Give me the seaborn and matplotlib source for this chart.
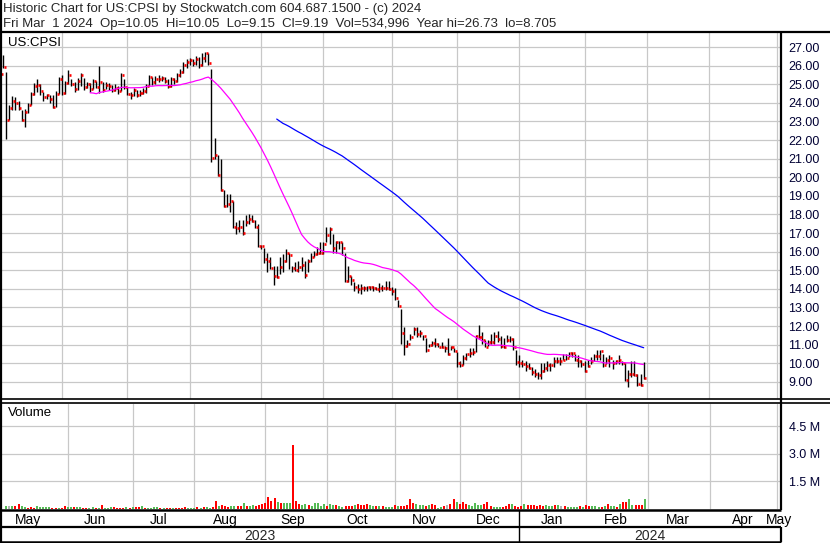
import numpy as np
import pandas as pd
import matplotlib
matplotlib.use("Agg")
import matplotlib.pyplot as plt
import seaborn as sns
from matplotlib.lines import Line2D

# ---------------- data ----------------
title_line1 = "Historic Chart for US:CPSI by Stockwatch.com 604.687.1500 - (c) 2024"
title_line2 = "Fri Mar  1 2024  Op=10.05  Hi=10.05  Lo=9.15  Cl=9.19  Vol=534,996  Year hi=26.73  lo=8.705"
symbol = "US:CPSI"
first_day = "2023-05-03"
last_day = "2024-03-01"
market_holidays = ["2023-05-29", "2023-06-19", "2023-07-04", "2023-09-04", "2023-11-23",
                   "2023-12-25", "2024-01-01", "2024-01-15", "2024-02-19", "2024-03-29"]
month_names = ["May", "Jun", "Jul", "Aug", "Sep", "Oct", "Nov", "Dec",
               "Jan", "Feb", "Mar", "Apr", "May"]
years = ["2023", "2024"]
price_ticks = [9, 10, 11, 12, 13, 14, 15, 16, 17, 18, 19, 20, 21, 22, 23, 24, 25, 26, 27]
volume_ticks = [1.5, 3.0, 4.5]
volume_tick_labels = ["1.5 M", "3.0 M", "4.5 M"]

close_a = [25.55, 25.95, 23.1, 23.75, 24.1, 24.0, 23.7, 23.1, 23.5, 23.9,
           24.5, 24.9, 24.95, 24.65, 24.3, 24.4, 24.2, 23.8, 24.5, 25.3,
           24.55, 25.05, 25.5, 25.0, 24.75, 25.15, 25.5, 24.85, 25.0, 24.75,
           25.15, 24.85, 25.1, 24.7, 24.95, 24.9, 24.7, 24.8, 24.65, 25.5,
           24.85, 24.5, 24.4, 24.7, 24.4, 24.55, 24.65, 24.9, 25.4, 25.1,
           25.3, 25.3, 25.35, 25.2, 24.9, 25.3, 25.15, 25.5, 25.65, 26.05,
           26.2, 26.3, 26.15, 26.35, 26.05, 26.4, 26.7, 26.15]
high_a = [25.85, 26.55, 25.65, 23.9, 24.35, 24.3, 24.1, 23.6, 23.65, 24.0,
          24.6, 25.05, 25.3, 25.0, 24.6, 24.5, 24.4, 24.4, 24.65, 25.4,
          25.5, 25.2, 25.75, 25.3, 25.1, 25.35, 25.6, 25.35, 25.1, 25.05,
          25.3, 25.2, 26.0, 25.1, 25.1, 25.05, 24.95, 25.0, 24.9, 25.6,
          25.3, 24.85, 24.6, 24.8, 24.7, 24.7, 24.8, 25.0, 25.5, 25.4,
          25.45, 25.5, 25.45, 25.4, 25.3, 25.4, 25.35, 25.6, 25.8, 26.2,
          26.35, 26.4, 26.35, 26.5, 26.45, 26.7, 26.73, 26.7]
low_a = [25.25, 25.9, 22.05, 23.1, 23.6, 23.6, 23.6, 23.05, 22.7, 23.45,
         23.9, 24.4, 24.6, 24.4, 24.1, 24.2, 24.0, 23.7, 23.8, 24.5,
         24.4, 24.5, 25.0, 24.9, 24.6, 24.7, 24.9, 24.7, 24.8, 24.6,
         24.75, 24.8, 24.55, 24.6, 24.75, 24.7, 24.6, 24.65, 24.5, 24.65,
         24.75, 24.4, 24.2, 24.35, 24.3, 24.35, 24.5, 24.55, 24.9, 24.95,
         25.0, 25.1, 25.15, 25.05, 24.8, 24.85, 25.0, 25.1, 25.4, 25.6,
         25.9, 26.05, 26.0, 26.05, 25.9, 26.0, 26.2, 26.05]

close_b = [21.05, 21.2, 20.1, 19.3, 18.45, 18.55, 18.75, 17.3, 17.25, 17.3,
           17.0, 17.6, 17.75, 17.65, 17.3, 16.3, 16.3, 15.6, 15.5, 15.1,
           14.7, 14.65, 15.15, 15.5, 15.95, 15.8, 15.1, 15.0, 15.2, 15.3,
           14.75, 15.5, 15.7, 15.9, 15.95, 15.95, 16.4, 16.9, 17.2, 16.2,
           16.5, 16.5, 16.2, 14.4, 14.7, 14.5, 14.1, 14.0, 14.05, 14.05,
           14.1, 14.1, 14.05, 14.0]
high_b = [25.83, 22.1, 21.2, 21.0, 19.3, 19.1, 19.1, 18.75, 17.6, 17.7,
          17.7, 17.95, 18.05, 17.95, 17.7, 17.5, 16.35, 16.2, 15.95, 15.7,
          15.25, 15.25, 15.7, 15.9, 16.15, 15.95, 15.25, 15.45, 15.5, 15.7,
          15.5, 15.6, 15.95, 16.05, 16.25, 16.5, 16.5, 17.3, 17.3, 16.95,
          16.6, 16.6, 16.5, 15.95, 15.25, 14.7, 14.35, 14.25, 14.25, 14.15,
          14.15, 14.15, 14.15, 14.1]
low_b = [20.84, 21.0, 20.05, 19.25, 18.4, 18.4, 18.15, 17.25, 16.95, 17.05,
         16.9, 17.4, 17.5, 17.6, 17.25, 16.25, 16.15, 15.4, 14.9, 15.05,
         14.2, 14.6, 14.8, 14.9, 15.45, 15.05, 14.9, 14.95, 14.9, 14.95,
         14.6, 14.9, 15.45, 15.7, 15.8, 15.9, 15.9, 16.5, 16.4, 15.95,
         15.95, 16.15, 15.8, 14.35, 14.35, 14.2, 13.9, 13.8, 13.75, 13.9,
         13.9, 13.95, 13.9, 13.95]

close_c = [14.07, 14.07, 14.05, 14.0, 13.9, 13.5, 13.1, 11.65, 10.95, 11.05,
           11.4, 11.85, 11.6, 11.65, 11.45, 10.7, 11.0, 11.1, 11.05, 10.9,
           10.9, 10.8, 10.5, 10.85, 10.65, 10.0, 9.9, 10.3, 10.5, 10.55,
           10.6, 11.45, 11.4, 11.25, 10.9, 11.15, 11.15, 11.45, 11.3, 10.95,
           10.9, 11.25, 11.3, 10.85, 10.05, 10.0, 9.95, 9.85, 9.77, 9.55,
           9.45, 9.35, 9.6, 9.75, 9.9, 9.9, 10.1, 10.1, 10.1, 10.2,
           10.3, 10.55, 10.55, 10.15, 10.1, 9.95, 9.6, 9.85, 10.1, 10.4,
           10.4, 10.65, 9.9, 10.2, 10.3, 10.0, 10.1, 10.2, 10.0, 9.1,
           9.4, 9.4, 9.35, 8.9, 8.85, 9.19]
high_c = [14.3, 14.2, 14.4, 14.4, 14.1, 14.05, 13.4, 12.9, 11.95, 11.25,
          11.6, 11.95, 11.95, 11.8, 11.5, 11.35, 11.05, 11.2, 11.35, 11.1,
          11.15, 10.95, 11.35, 10.95, 10.8, 10.6, 10.1, 10.45, 10.55, 10.8,
          10.8, 11.5, 12.05, 11.7, 11.25, 11.25, 11.6, 11.7, 11.75, 11.45,
          11.35, 11.5, 11.45, 11.35, 10.7, 10.45, 10.15, 10.1, 10.0, 9.8,
          9.7, 9.55, 10.0, 10.0, 10.1, 10.0, 10.35, 10.35, 10.35, 10.5,
          10.5, 10.6, 10.6, 10.5, 10.45, 10.15, 10.1, 10.15, 10.35, 10.5,
          10.7, 10.7, 10.5, 10.35, 10.45, 10.15, 10.15, 10.45, 10.1, 10.0,
          9.65, 10.1, 10.1, 9.45, 9.45, 10.05]
low_c = [13.85, 13.9, 13.95, 13.95, 13.65, 13.4, 13.05, 11.05, 10.45, 10.9,
         11.25, 11.5, 11.4, 11.4, 11.25, 10.6, 10.9, 10.95, 10.9, 10.85,
         10.8, 10.6, 10.45, 10.7, 10.6, 9.8, 9.8, 9.9, 10.15, 10.35,
         10.45, 10.6, 11.35, 11.05, 10.85, 10.95, 11.05, 11.05, 11.15, 10.8,
         10.8, 11.15, 11.15, 10.7, 9.9, 9.8, 9.8, 9.6, 9.7, 9.35,
         9.25, 9.15, 9.15, 9.55, 9.6, 9.6, 9.8, 10.0, 9.9, 10.15,
         10.15, 10.35, 10.35, 10.1, 9.8, 9.8, 9.55, 9.8, 9.95, 10.1,
         10.15, 10.15, 9.8, 9.95, 9.8, 9.7, 9.95, 9.95, 9.9, 9.05,
         8.705, 9.25, 9.3, 8.8, 8.8, 9.15]

# volume in millions of shares; colour code r = red, g = green, n = grey
volume_a = [0.14,
            0.14, 0.14, 0.14, 0.29, 0.18, 0.11, 0.07, 0.13, 0.07, 0.18,
            0.13, 0.13, 0.13, 0.13, 0.07, 0.07, 0.07, 0.07, 0.18, 0.13,
            0.13, 0.09, 0.13, 0.13, 0.07, 0.07, 0.07, 0.13, 0.07, 0.07,
            0.24, 0.07, 0.07, 0.13, 0.13, 0.07, 0.07, 0.07, 0.13, 0.07,
            0.13, 0.13, 0.13, 0.18, 0.07, 0.07, 0.07, 0.13, 0.13, 0.07,
            0.07, 0.07, 0.07, 0.07, 0.07, 0.07, 0.07, 0.13, 0.07, 0.07,
            0.07, 0.13, 0.07, 0.13, 0.13, 0.07, 0.13, 0.45, 0.18, 0.24,
            0.18, 0.13, 0.18, 0.18, 0.18, 0.18, 0.34, 0.18, 0.18, 0.24,
            0.18, 0.24, 0.29, 0.34, 0.67, 0.45, 0.62, 0.40, 0.34, 0.34,
            0.34, 0.34, 3.45, 0.45, 0.29, 0.24, 0.29, 0.24, 0.18, 0.34,
            0.34, 0.18]
volume_b = [0.25, 0.18, 0.29, 0.24, 0.24, 0.18, 0.13, 0.18, 0.18, 0.18,
            0.24, 0.29, 0.24, 0.24, 0.29, 0.24, 0.18, 0.18, 0.18, 0.18,
            0.13, 0.13, 0.13, 0.24, 0.18, 0.18, 0.18, 0.24, 0.56, 0.34,
            0.29, 0.24, 0.24, 0.18, 0.24, 0.29, 0.24, 0.05, 0.13, 0.18,
            0.24, 0.29, 0.56, 0.40, 0.29, 0.40, 0.29, 0.24, 0.18, 0.34,
            0.24, 0.24, 0.29, 0.40, 0.18, 0.13, 0.13, 0.13, 0.13, 0.18,
            0.29, 0.29, 0.18, 0.13, 0.18, 0.29, 0.24, 0.24, 0.24, 0.18,
            0.24, 0.18, 0.24, 0.18, 0.18, 0.24, 0.24, 0.18, 0.18, 0.13,
            0.13, 0.13, 0.13, 0.18, 0.13, 0.24, 0.18, 0.18, 0.18, 0.13,
            0.13, 0.18, 0.29, 0.18, 0.18, 0.13, 0.29, 0.40, 0.40, 0.56,
            0.24, 0.24, 0.24, 0.24, 0.535]
volume_colour_a = ("g" "ngrrggrrrg" "ggggrrgrrg" "grggrrggrg" "rgggrrrrgr"
                   "grrgrggggr" "grrgrrrrgg" "grgrggrrgr" "rrggrrgrgg"
                   "rrrrrrrgrg" "ggrrrggrgg" "gg")
volume_colour_b = ("grggrggrrr" "grrrrggrgr" "gggrgrrrrr" "gggrgrrggr"
                   "nrrgrrrggg" "ggrrrgggrr" "rgrrrgrrrr" "rrgggrgnrg"
                   "gggrgrrggg" "rgrggrgrrg" "grrrg")

MA_SHORT = 30
MA_LONG = 90

# ---------------- assemble ----------------
closes = close_a + close_b + close_c
highs = high_a + high_b + high_c
lows = low_a + low_b + low_c
volumes = volume_a + volume_b
vol_colours = list(volume_colour_a + volume_colour_b)

days = pd.bdate_range("2023-05-01", "2024-05-31", freq="C", holidays=market_holidays)
start = days.get_loc(pd.Timestamp(first_day))
xs = np.arange(start, start + len(closes))

df = pd.DataFrame({"x": xs, "close": closes, "high": highs, "low": lows,
                   "vol": volumes, "vcol": vol_colours})
df["ma_s"] = df["close"].rolling(MA_SHORT).mean()
df["ma_l"] = df["close"].rolling(MA_LONG).mean()

month_start = pd.Series(np.arange(len(days)), index=days).groupby(
    [days.year, days.month]).first().values

# ---------------- figure ----------------
sns.set_style("white")
plt.rcParams["font.family"] = ["Liberation Sans", "DejaVu Sans"]

W, H = 830, 543
fig = plt.figure(figsize=(W / 100, H / 100), dpi=100)
fig.patch.set_facecolor("white")

PPD = 3.11        # pixels per trading day
OFF = -6.3        # pixel position of the first day of the calendar
X0 = (0 - OFF) / PPD
X1 = (781 - OFF) / PPD

def px_axes(left, top, right, bottom):
    return fig.add_axes([left / W, 1 - bottom / H, (right - left) / W, (bottom - top) / H])

def fline(x0, y0, x1, y1, lw=1.5, color="black"):
    fig.add_artist(Line2D([x0 / W, x1 / W], [1 - y0 / H, 1 - y1 / H],
                          transform=fig.transFigure, color=color, lw=lw,
                          solid_capstyle="butt"))

GRID = "#c8c8c8"
LABEL_COLOR = "#000033"

# ----- price panel -----
ax = px_axes(0, 32, 781, 399)
ax.set_facecolor("white")
ax.set_xlim(X0, X1)
ax.set_ylim(8.08, 27.81)
ax.set_yticks(price_ticks)
ax.set_yticklabels([f"{v:.2f}" for v in price_ticks])
ax.yaxis.tick_right()
ax.set_xticks(month_start)
ax.grid(True, color=GRID, lw=0.9)
ax.set_axisbelow(True)
ax.tick_params(axis="y", length=0, pad=5, labelsize=9, labelcolor=LABEL_COLOR)
ax.tick_params(axis="x", length=0, labelbottom=False)
for s in ax.spines.values():
    s.set_visible(False)

ax.vlines(df["x"], df["low"], df["high"], color="black", lw=1.0, zorder=2)
ax.hlines(df["close"], df["x"] + 0.2, df["x"] + 0.85, color="#ff0000", lw=1.9, zorder=2)
sns.lineplot(data=df, x="x", y="ma_s", ax=ax, color="#ff00ff", lw=0.9, zorder=3)
sns.lineplot(data=df, x="x", y="ma_l", ax=ax, color="#0000ff", lw=0.9, zorder=3)
ax.set_xlim(X0, X1)
ax.set_xlabel("")
ax.set_ylabel("")
ax.text(8 / 781, 1 - 11 / 367, symbol, transform=ax.transAxes, fontsize=9.5,
        va="center", ha="left", color="black")

# ----- volume panel -----
axv = px_axes(0, 404, 781, 509)
axv.set_facecolor("white")
sns.barplot(data=df, x="x", y="vol", hue="vcol", native_scale=True, dodge=False,
            palette={"r": "#ff0000", "g": "#55bb55", "n": "#b4b4b4"},
            saturation=1, width=0.65, errorbar=None, legend=False, ax=axv,
            linewidth=0, zorder=2)
axv.set_xlim(X0, X1)
axv.set_ylim(0, 5.7)
axv.set_yticks(volume_ticks)
axv.set_yticklabels(volume_tick_labels)
axv.yaxis.tick_right()
axv.set_xticks(month_start)
axv.grid(True, color=GRID, lw=0.9)
axv.set_axisbelow(True)
axv.tick_params(axis="y", length=0, pad=6, labelsize=9, labelcolor=LABEL_COLOR)
axv.tick_params(axis="x", length=0, labelbottom=False)
axv.set_xlabel("")
axv.set_ylabel("")
for s in axv.spines.values():
    s.set_visible(False)
axv.text(8 / 781, 1 - 9 / 105, "Volume", transform=axv.transAxes, fontsize=9.5,
         va="center", ha="left", color="black")

# ----- month row -----
axm = px_axes(0, 510, 781, 527)
axm.set_xlim(X0, X1)
axm.set_ylim(0, 1)
axm.axis("off")
for i, name in enumerate(month_names):
    if i + 1 < len(month_start):
        xc = (month_start[i] + month_start[i + 1]) / 2
    else:
        xc = month_start[i] + 0.5
    axm.text(xc, 0.42, name, ha="center", va="center", fontsize=10, color="black")

# ----- year row -----
axy = px_axes(0, 527, 781, 542)
axy.set_xlim(X0, X1)
axy.set_ylim(0, 1)
axy.axis("off")
jan = month_start[8]
axy.text((X0 + jan) / 2, 0.42, years[0], ha="center", va="center", fontsize=10)
axy.text((jan + X1) / 2, 0.42, years[1], ha="center", va="center", fontsize=10)
jan_px = (jan - X0) / (X1 - X0) * 781

# ----- header -----
fig.text(3 / W, 1 - 9 / H, title_line1, fontsize=9.5, va="center", ha="left")
fig.text(3 / W, 1 - 24 / H, title_line2, fontsize=9.5, va="center", ha="left")

# ----- frame lines -----
fline(1, 0, 1, 543, lw=1.6)
fline(0, 32, 830, 32, lw=1.6)
fline(781, 32, 781, 510, lw=1.6)
fline(0, 399, 830, 399, lw=1.2)
fline(0, 402.5, 830, 402.5, lw=1.2)
fline(0, 510, 781, 510, lw=1.8)
fline(0, 527, 781, 527, lw=1.6)
fline(0, 542, 781, 542, lw=1.8)
fline(jan_px, 510, jan_px, 542, lw=1.0)
fline(781, 527, 781, 542, lw=1.6)

fig.savefig("out.png", dpi=100, facecolor="white")
